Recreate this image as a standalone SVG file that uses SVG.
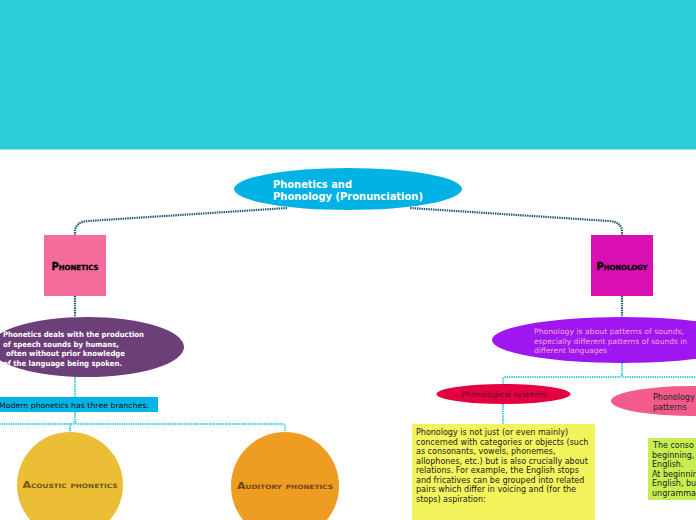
<svg xmlns="http://www.w3.org/2000/svg" width="696" height="520" viewBox="0 0 696 520">
<style>
.dark{fill:none;stroke:#1d5b6b;stroke-width:2.2;stroke-dasharray:1.4 0.9}
.light{fill:none;stroke:#3ccfe0;stroke-width:2;stroke-dasharray:1.4 0.9}
.t{font-family:"DejaVu Sans","Liberation Sans",sans-serif}
.sc{font-family:"DejaVu Sans","Liberation Sans",sans-serif;font-weight:bold;font-variant:small-caps;text-anchor:middle}
</style>
<rect x="0" y="0" width="696" height="149" fill="#2bcdd6"/>
<rect x="0" y="149" width="696" height="1" fill="#8fe6ec"/>
<rect x="0" y="150" width="696" height="370" fill="#ffffff"/>
<g id="connectors">
<path class="dark" d="M287 208 L88 221 Q75 222 75 232 L75 235"/>
<path class="dark" d="M410 208 L609 221 Q622 222 622 232 L622 235"/>
<path class="dark" d="M75 296 L75 317"/>
<path class="dark" d="M622 296 L622 317"/>
<path class="light" d="M75 377 L75 397"/>
<path class="light" d="M75 412 L75 421 Q75 424 72 424 L0 424"/>
<path class="light" d="M72 424 Q70 424 70 427 L70 432"/>
<path class="light" d="M75 421 Q75 424 78 424 L282 424 Q285 424 285 427 L285 432"/>
<path class="light" d="M622 363 L622 374 Q622 377 619 377 L506 377 Q503 377 503 380 L503 384"/>
<path class="light" d="M622 374 Q622 377 625 377 L696 377"/>
<path class="light" d="M503 404 L503 424"/>
</g>
<g id="root">
<ellipse cx="348" cy="189" rx="114" ry="21" fill="#03b2e4"/>
<text class="t" x="273" y="188" font-size="10" font-weight="bold" fill="#ffffff" textLength="79" lengthAdjust="spacingAndGlyphs">Phonetics and</text>
<text class="t" x="273" y="200" font-size="10" font-weight="bold" fill="#ffffff" textLength="150" lengthAdjust="spacingAndGlyphs">Phonology (Pronunciation)</text>
</g>
<g id="phonetics">
<rect x="44" y="235" width="62" height="61" fill="#f46c9c"/>
<text class="sc" x="75" y="270" font-size="10" font-weight="900" fill="#000" stroke="#000" stroke-width="0.3" textLength="47" lengthAdjust="spacingAndGlyphs">Phonetics</text>
</g>
<g id="phonetics-desc">
<ellipse cx="87" cy="347" rx="97" ry="30" fill="#6c3f78"/>
<text class="t" font-size="7.5" font-weight="bold" fill="#ffffff">
<tspan x="3" y="337" textLength="141" lengthAdjust="spacingAndGlyphs">Phonetics deals with the production</tspan>
<tspan x="3" y="347" textLength="116" lengthAdjust="spacingAndGlyphs">of speech sounds by humans,</tspan>
<tspan x="6" y="356" textLength="119" lengthAdjust="spacingAndGlyphs">often without prior knowledge</tspan>
<tspan x="3" y="366" textLength="119" lengthAdjust="spacingAndGlyphs">of the language being spoken.</tspan>
</text>
</g>
<g id="branches">
<rect x="0" y="397" width="158" height="15" fill="#03b4e6"/>
<text class="t" x="-1" y="408" font-size="7.5" fill="#111" textLength="150" lengthAdjust="spacingAndGlyphs">Modern phonetics has three branches:</text>
</g>
<g id="acoustic">
<circle cx="70" cy="485" r="53" fill="#ecbe35"/>
<text class="sc" x="70" y="488" font-size="9" fill="#6a5420" textLength="95" lengthAdjust="spacingAndGlyphs">Acoustic phonetics</text>
</g>
<g id="auditory">
<circle cx="285" cy="486" r="54" fill="#ee9c22"/>
<text class="sc" x="285" y="489" font-size="9" fill="#6a4a18" textLength="96" lengthAdjust="spacingAndGlyphs">Auditory phonetics</text>
</g>
<g id="phonology">
<rect x="591" y="235" width="62" height="61" fill="#db10b3"/>
<text class="sc" x="622" y="270" font-size="10" font-weight="900" fill="#000" stroke="#000" stroke-width="0.3" textLength="51" lengthAdjust="spacingAndGlyphs">Phonology</text>
</g>
<g id="phonology-desc">
<ellipse cx="622" cy="340" rx="130" ry="23" fill="#a016f0"/>
<text class="t" font-size="7.5" fill="#f0a8d8">
<tspan x="534" y="334" textLength="150" lengthAdjust="spacingAndGlyphs">Phonology is about patterns of sounds,</tspan>
<tspan x="534" y="344" textLength="153" lengthAdjust="spacingAndGlyphs">especially different patterns of sounds in</tspan>
<tspan x="534" y="353" textLength="73" lengthAdjust="spacingAndGlyphs">different languages</tspan>
</text>
</g>
<g id="phonological-systems">
<ellipse cx="503.5" cy="394" rx="67" ry="10" fill="#e5013f"/>
<text class="t" x="503.5" y="397" font-size="7.5" fill="#5a1030" text-anchor="middle" textLength="85" lengthAdjust="spacingAndGlyphs">Phonological systems</text>
</g>
<g id="systems-note">
<rect x="412" y="424" width="183" height="96" fill="#f3f35b"/>
<text class="t" font-size="8" fill="#222">
<tspan x="416" y="435">Phonology is not just (or even mainly)</tspan>
<tspan x="416" y="444.5">concerned with categories or objects (such</tspan>
<tspan x="416" y="454">as consonants, vowels, phonemes,</tspan>
<tspan x="416" y="463.5">allophones, etc.) but is also crucially about</tspan>
<tspan x="416" y="473">relations. For example, the English stops</tspan>
<tspan x="416" y="482.5">and fricatives can be grouped into related</tspan>
<tspan x="416" y="492">pairs which differ in voicing and (for the</tspan>
<tspan x="416" y="501.5">stops) aspiration:</tspan>
</text>
</g>
<g id="phonology-patterns">
<ellipse cx="690" cy="401" rx="79" ry="15" fill="#f35b8b"/>
<text class="t" font-size="8" fill="#222">
<tspan x="653" y="400">Phonology</tspan>
<tspan x="653" y="409.5">patterns</tspan>
</text>
</g>
<g id="patterns-note">
<rect x="648" y="438" width="60" height="62" fill="#c6ee50"/>
<text class="t" font-size="8" fill="#222">
<tspan x="653" y="448"> The conso</tspan>
<tspan x="652" y="457.5">beginning,</tspan>
<tspan x="652" y="467">English.</tspan>
<tspan x="652" y="476.5">At beginnin</tspan>
<tspan x="652" y="486">English, bu</tspan>
<tspan x="652" y="495.5">ungramma</tspan>
</text>
</g>
</svg>
